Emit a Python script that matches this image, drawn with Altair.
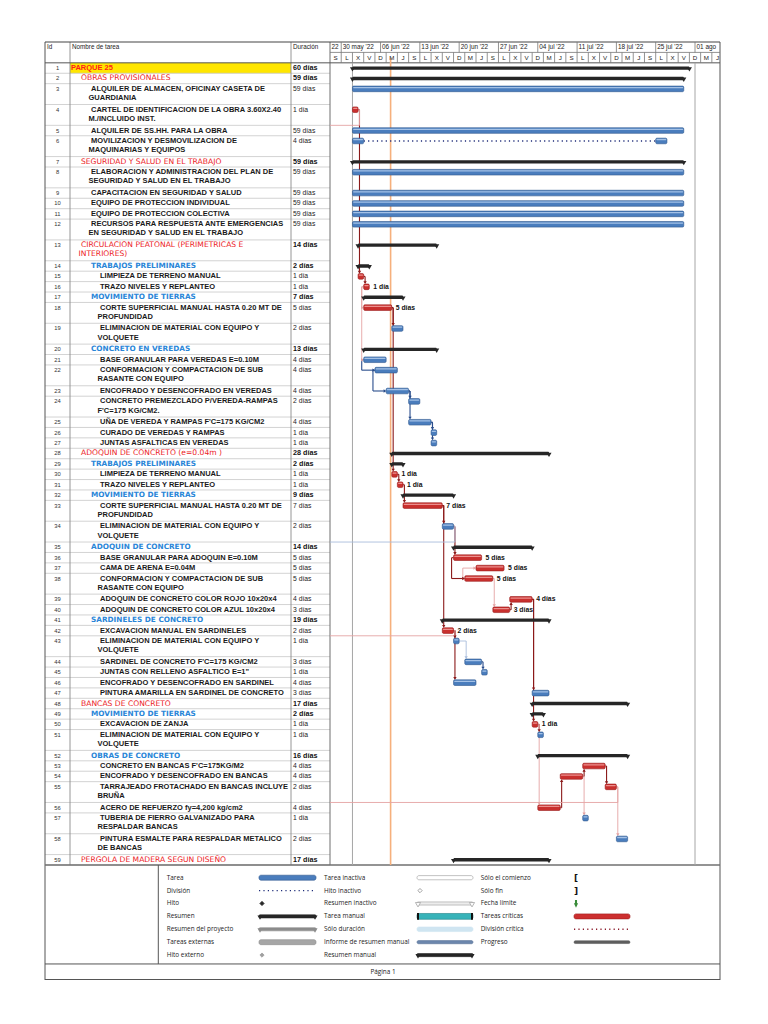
import altair as alt
import pandas as pd

BASE_DATE = "2022-05-28"

task_ids = list(range(1, 60))
task_names = [
    "PARQUE 25",
    "OBRAS PROVISIONALES",
    "ALQUILER DE ALMACEN, OFICINAY CASETA DE\nGUARDIANIA",
    "CARTEL DE IDENTIFICACION DE LA OBRA 3.60X2.40\nM./INCLUIDO INST.",
    "ALQUILER DE SS.HH. PARA LA OBRA",
    "MOVILIZACION Y DESMOVILIZACION DE\nMAQUINARIAS Y EQUIPOS",
    "SEGURIDAD Y SALUD EN EL TRABAJO",
    "ELABORACION Y ADMINISTRACION DEL PLAN DE\nSEGURIDAD Y SALUD EN EL TRABAJO",
    "CAPACITACION EN SEGURIDAD Y SALUD",
    "EQUIPO DE PROTECCION INDIVIDUAL",
    "EQUIPO DE PROTECCION COLECTIVA",
    "RECURSOS PARA RESPUESTA ANTE EMERGENCIAS\nEN SEGURIDAD Y SALUD EN EL TRABAJO",
    "CIRCULACION PEATONAL (PERIMETRICAS E\nINTERIORES)",
    "TRABAJOS PRELIMINARES",
    "LIMPIEZA DE TERRENO MANUAL",
    "TRAZO NIVELES Y REPLANTEO",
    "MOVIMIENTO DE TIERRAS",
    "CORTE SUPERFICIAL MANUAL HASTA 0.20 MT DE\nPROFUNDIDAD",
    "ELIMINACION DE MATERIAL CON EQUIPO Y\nVOLQUETE",
    "CONCRETO EN VEREDAS",
    "BASE GRANULAR PARA VEREDAS E=0.10M",
    "CONFORMACION Y COMPACTACION DE SUB\nRASANTE CON EQUIPO",
    "ENCOFRADO Y DESENCOFRADO EN VEREDAS",
    "CONCRETO PREMEZCLADO P/VEREDA-RAMPAS\nF'C=175 KG/CM2.",
    "UÑA DE VEREDA Y RAMPAS F'C=175 KG/CM2",
    "CURADO DE VEREDAS Y RAMPAS",
    "JUNTAS ASFALTICAS EN VEREDAS",
    "ADOQUIN DE CONCRETO (e=0.04m )",
    "TRABAJOS PRELIMINARES",
    "LIMPIEZA DE TERRENO MANUAL",
    "TRAZO NIVELES Y REPLANTEO",
    "MOVIMIENTO DE TIERRAS",
    "CORTE SUPERFICIAL MANUAL HASTA 0.20 MT DE\nPROFUNDIDAD",
    "ELIMINACION DE MATERIAL CON EQUIPO Y\nVOLQUETE",
    "ADOQUIN DE CONCRETO",
    "BASE GRANULAR PARA ADOQUIN E=0.10M",
    "CAMA DE ARENA E=0.04M",
    "CONFORMACION Y COMPACTACION DE SUB\nRASANTE CON EQUIPO",
    "ADOQUIN DE CONCRETO COLOR ROJO 10x20x4",
    "ADOQUIN DE CONCRETO COLOR AZUL 10x20x4",
    "SARDINELES DE CONCRETO",
    "EXCAVACION MANUAL EN SARDINELES",
    "ELIMINACION DE MATERIAL CON EQUIPO Y\nVOLQUETE",
    "SARDINEL DE CONCRETO F'C=175 KG/CM2",
    'JUNTAS CON RELLENO ASFALTICO E=1"',
    "ENCOFRADO Y DESENCOFRADO EN SARDINEL",
    "PINTURA AMARILLA EN SARDINEL DE CONCRETO",
    "BANCAS DE CONCRETO",
    "MOVIMIENTO DE TIERRAS",
    "EXCAVACION DE ZANJA",
    "ELIMINACION DE MATERIAL CON EQUIPO Y\nVOLQUETE",
    "OBRAS DE CONCRETO",
    "CONCRETO EN BANCAS F'C=175KG/M2",
    "ENCOFRADO Y DESENCOFRADO EN BANCAS",
    "TARRAJEADO FROTACHADO EN BANCAS INCLUYE\nBRUÑA",
    "ACERO DE REFUERZO fy=4,200 kg/cm2",
    "TUBERIA DE FIERRO GALVANIZADO PARA\nRESPALDAR BANCAS",
    "PINTURA ESMALTE PARA RESPALDAR METALICO\nDE BANCAS",
    "PERGOLA DE MADERA SEGUN DISEÑO",
]
task_levels = [1, 2, 3, 3, 3, 3, 2, 3, 3, 3, 3, 3,
               2, 3, 4, 4, 3, 4, 4, 3, 4, 4, 4, 4, 4, 4, 4,
               2, 3, 4, 4, 3, 4, 4, 3, 4, 4, 4, 4, 4,
               3, 4, 4, 4, 4, 4, 4,
               2, 3, 4, 4, 3, 4, 4, 4, 4, 4, 4, 2]
task_durations = ["60 días", "59 días", "59 días", "1 día", "59 días", "4 días", "59 días",
                  "59 días", "59 días", "59 días", "59 días", "59 días",
                  "14 días", "2 días", "1 día", "1 día", "7 días", "5 días", "2 días",
                  "13 días", "4 días", "4 días", "4 días", "2 días", "4 días", "1 día", "1 día",
                  "28 días", "2 días", "1 día", "1 día", "9 días", "7 días", "2 días",
                  "14 días", "5 días", "5 días", "5 días", "4 días", "3 días",
                  "19 días", "2 días", "1 día", "3 días", "1 día", "4 días", "3 días",
                  "17 días", "2 días", "1 día", "1 día", "16 días", "4 días", "4 días",
                  "2 días", "4 días", "1 día", "2 días", "17 días"]
task_starts = ["2022-06-01"] * 12 + [
    "2022-06-02", "2022-06-02", "2022-06-02", "2022-06-03", "2022-06-03", "2022-06-03",
    "2022-06-08", "2022-06-03", "2022-06-03", "2022-06-05", "2022-06-07", "2022-06-11",
    "2022-06-11", "2022-06-15", "2022-06-15",
    "2022-06-08", "2022-06-08", "2022-06-08", "2022-06-09", "2022-06-10", "2022-06-10",
    "2022-06-17", "2022-06-19", "2022-06-19", "2022-06-23", "2022-06-21", "2022-06-29",
    "2022-06-26",
    "2022-06-17", "2022-06-17", "2022-06-19", "2022-06-21", "2022-06-24", "2022-06-19",
    "2022-07-03",
    "2022-07-03", "2022-07-03", "2022-07-03", "2022-07-04", "2022-07-04", "2022-07-12",
    "2022-07-08", "2022-07-16", "2022-07-04", "2022-07-12", "2022-07-18", "2022-06-19"]
summary_ids = [1, 2, 7, 13, 14, 17, 20, 28, 29, 32, 35, 41, 48, 49, 52, 59]
critical_ids = [4, 15, 16, 18, 30, 31, 33, 36, 37, 38, 39, 40, 42, 50, 53, 54, 55, 56]
labeled_ids = [16, 18, 30, 31, 33, 36, 37, 38, 39, 40, 42, 50]
split_tasks = {6: [("2022-06-01", 2), ("2022-07-25", 2)]}
status_date = "2022-06-07T19:00"
project_lines = ["2022-06-01", "2022-08-01"]

links = [
    (4, 15, "FS", "crit"), (15, 16, "FS", "crit"), (16, 18, "SS", "pink"), (16, 21, "SS", "pink"),
    (18, 19, "FS", "crit"), (18, 30, "FS", "crit"), (21, 22, "SS", "blue"), (22, 23, "SS", "blue"),
    (23, 24, "FS", "blue"), (23, 25, "FS", "blue"), (25, 26, "FS", "blue"), (25, 27, "FS", "blue"),
    (30, 31, "FS", "crit"), (31, 33, "FS", "crit"), (33, 34, "FS", "crit"), (33, 42, "FS", "crit"),
    (34, 36, "FS", "crit"), (36, 38, "SS", "crit"), (38, 37, "SS", "pink"), (38, 40, "FS", "pink"),
    (40, 39, "FS", "crit"), (42, 43, "FS", "crit"), (42, 46, "FS", "crit"), (43, 44, "FS", "light"),
    (44, 45, "FS", "blue"), (39, 47, "FS", "crit"), (39, 50, "FS", "crit"), (50, 51, "FS", "crit"),
    (50, 56, "FS", "pink"), (56, 54, "FS", "crit"), (54, 53, "FS", "crit"), (54, 57, "FS", "pink"),
    (53, 55, "FS", "crit"), (55, 58, "FS", "pink"),
    (4, None, "W", "pink"), (34, None, "W", "light"), (42, None, "W", "pink"), (55, None, "W", "pink"),
]

week_labels = ["22", "30 may '22", "06 jun '22", "13 jun '22", "20 jun '22", "27 jun '22",
               "04 jul '22", "11 jul '22", "18 jul '22", "25 jul '22", "01 ago"]
week_starts = ["2022-05-23", "2022-05-30", "2022-06-06", "2022-06-13", "2022-06-20", "2022-06-27",
               "2022-07-04", "2022-07-11", "2022-07-18", "2022-07-25", "2022-08-01"]
day_letters = "LMXJVSD"

legend_labels = ["Tarea", "División", "Hito", "Resumen", "Resumen del proyecto", "Tareas externas",
                 "Hito externo",
                 "Tarea inactiva", "Hito inactivo", "Resumen inactivo", "Tarea manual", "Sólo duración",
                 "Informe de resumen manual", "Resumen manual",
                 "Sólo el comienzo", "Sólo fin", "Fecha límite", "Tareas críticas", "División crítica",
                 "Progreso"]
legend_kinds = ["bar_blue", "dots_blue", "diamond_black", "summary_black", "summary_gray", "bar_gray",
                "diamond_gray",
                "bar_hollow", "diamond_hollow", "summary_hollow", "manual", "duration_only",
                "manual_report", "summary_black",
                "start_only", "finish_only", "deadline", "bar_red", "dots_red", "progress"]
legend_cols = [0] * 7 + [1] * 7 + [2] * 6
page_label = "Página 1"

# ---------------------------------------------------------------- layout
W, H = 675, 938
YMAX = 88.04
NDAYS = 69.45
GX0 = 285
PX = alt.Scale(domain=[0, W], range=[0, W])
DAY = alt.Scale(domain=[0, NDAYS], range=[GX0, W])
YS = alt.Scale(domain=[-2, YMAX], range=[0, H])
base = pd.Timestamp(BASE_DATE)


def dday(s):
    return (pd.Timestamp(s) - base).total_seconds() / 86400.0


rows = {}
top = 0
for i, tid in enumerate(task_ids):
    nl = len(task_names[i].split("\n"))
    st = dday(task_starts[i])
    du = int(task_durations[i].split()[0])
    rows[tid] = dict(top=top, bot=top + nl, ym=top + 0.5, start=st, end=st + du)
    top += nl
BODY_END = top

F_TASK = "Liberation Sans"
F_SUM = "DejaVu Sans"


def rule_layer(df, xs, dash=None):
    m = alt.Chart(df).mark_rule(strokeDash=dash) if dash else alt.Chart(df).mark_rule()
    return m.encode(
        x=alt.X("x1:Q", scale=xs, axis=None), x2="x2:Q",
        y=alt.Y("y1:Q", scale=YS, axis=None), y2="y2:Q",
        color=alt.Color("c:N", scale=None), size=alt.Size("w:Q", scale=None))


def rect_layer(df, xs, radius=0, sw=0.6):
    return alt.Chart(df).mark_rect(cornerRadius=radius, strokeWidth=sw).encode(
        x=alt.X("x1:Q", scale=xs, axis=None), x2="x2:Q",
        y=alt.Y("y1:Q", scale=YS, axis=None), y2="y2:Q",
        fill=alt.Fill("f:N", scale=None), stroke=alt.Stroke("s:N", scale=None))


def point_layer(df, xs, shape, size, angle=None, sw=0.8):
    kw = dict(shape=shape, size=size, filled=True, opacity=1, strokeWidth=sw)
    if angle is not None:
        kw["angle"] = angle
    return alt.Chart(df).mark_point(**kw).encode(
        x=alt.X("x:Q", scale=xs, axis=None), y=alt.Y("y:Q", scale=YS, axis=None),
        fill=alt.Fill("f:N", scale=None), stroke=alt.Stroke("s:N", scale=None))


def text_layer(df, xs, **kw):
    kw.setdefault("baseline", "middle")
    kw.setdefault("align", "left")
    return alt.Chart(df).mark_text(**kw).encode(
        x=alt.X("x:Q", scale=xs, axis=None), y=alt.Y("y:Q", scale=YS, axis=None), text="t:N")


layers = []

# ---------------------------------------------------------------- table background / grid
r1 = rows[1]
layers.append(rect_layer(pd.DataFrame([dict(x1=25, x2=246, y1=r1["top"], y2=r1["bot"],
                                             f="#ffe600", s="#ffe600")]), PX, sw=0))

grid = []
for tid in task_ids:
    b = rows[tid]["bot"]
    grid.append(dict(x1=0, x2=285, y1=b, y2=b, c="#c8c8c8", w=0.8))
for xv in (25, 246):
    grid.append(dict(x1=xv, x2=xv, y1=-2, y2=BODY_END, c="#8a8a8a", w=0.9))
grid.append(dict(x1=285, x2=285, y1=-2, y2=BODY_END, c="#6e6e6e", w=1.0))
grid.append(dict(x1=0, x2=0, y1=-2, y2=YMAX, c="#555555", w=1.0))
grid.append(dict(x1=W, x2=W, y1=-2, y2=YMAX, c="#555555", w=1.0))
grid.append(dict(x1=0, x2=W, y1=-2, y2=-2, c="#444444", w=1.2))
grid.append(dict(x1=0, x2=W, y1=0, y2=0, c="#555555", w=1.0))
grid.append(dict(x1=285, x2=W, y1=-1, y2=-1, c="#777777", w=0.8))
grid.append(dict(x1=0, x2=W, y1=BODY_END, y2=BODY_END, c="#707070", w=1.6))
grid.append(dict(x1=0, x2=W, y1=86.5, y2=86.5, c="#555555", w=1.0))
grid.append(dict(x1=0, x2=W, y1=YMAX - 0.05, y2=YMAX - 0.05, c="#555555", w=1.2))
grid.append(dict(x1=113.3, x2=113.3, y1=BODY_END, y2=86.5, c="#555555", w=1.0))
layers.append(rule_layer(pd.DataFrame(grid), PX))

# header separators in the timescale
hsep = []
for ws in week_starts:
    d = dday(ws)
    if 0 < d < NDAYS:
        hsep.append(dict(x1=d, x2=d, y1=-2, y2=-1, c="#777777", w=0.8))
for d in range(2, 70, 2):
    if d < NDAYS:
        hsep.append(dict(x1=d, x2=d, y1=-1, y2=0, c="#777777", w=0.8))
layers.append(rule_layer(pd.DataFrame(hsep), DAY))

# ---------------------------------------------------------------- gantt guide lines
guides = [dict(x1=dday(p), x2=dday(p), y1=0, y2=BODY_END, c="#a6a6a6", w=1.0) for p in project_lines]
sd = dday(status_date)
guides.append(dict(x1=sd, x2=sd, y1=-0.5, y2=BODY_END, c="#f6b07c", w=1.6))
layers.append(rule_layer(pd.DataFrame(guides), DAY))

# ---------------------------------------------------------------- links
COL = {"crit": "#8b1a1a", "pink": "#e4a4a4", "blue": "#2a4d8c", "light": "#a9bddc"}
lseg, arr_d, arr_u, arr_r = [], [], [], []
for p, s, kind, ck in links:
    c = COL[ck]
    w = 1.1 if ck in ("crit", "blue") else 0.9
    P = rows[p]
    if kind == "W":
        xv = P["end"] + 0.25
        lseg.append(dict(x1=P["end"], x2=xv, y1=P["ym"], y2=P["ym"], c=c, w=w))
        lseg.append(dict(x1=xv, x2=xv, y1=P["ym"], y2=P["bot"], c=c, w=w))
        lseg.append(dict(x1=0, x2=xv, y1=P["bot"], y2=P["bot"], c=c, w=w))
        continue
    S = rows[s]
    if kind == "FS":
        xv = S["start"] + 0.25
        lseg.append(dict(x1=P["end"], x2=xv, y1=P["ym"], y2=P["ym"], c=c, w=w))
        if S["ym"] > P["ym"]:
            lseg.append(dict(x1=xv, x2=xv, y1=P["ym"], y2=S["ym"] - 0.4, c=c, w=w))
            arr_d.append(dict(x=xv, y=S["ym"] - 0.4, f=c, s=c))
        else:
            lseg.append(dict(x1=xv, x2=xv, y1=P["ym"], y2=S["ym"] + 0.4, c=c, w=w))
            arr_u.append(dict(x=xv, y=S["ym"] + 0.4, f=c, s=c))
    else:
        xv = P["start"] - 0.35
        lseg.append(dict(x1=xv, x2=P["start"], y1=P["ym"], y2=P["ym"], c=c, w=w))
        lseg.append(dict(x1=xv, x2=xv, y1=P["ym"], y2=S["ym"], c=c, w=w))
        lseg.append(dict(x1=xv, x2=S["start"] - 0.2, y1=S["ym"], y2=S["ym"], c=c, w=w))
        arr_r.append(dict(x=S["start"] - 0.2, y=S["ym"], f=c, s=c))
layers.append(rule_layer(pd.DataFrame(lseg), DAY))
layers.append(point_layer(pd.DataFrame(arr_d), DAY, "triangle-down", 11, sw=0))
layers.append(point_layer(pd.DataFrame(arr_u), DAY, "triangle-up", 11, sw=0))
layers.append(point_layer(pd.DataFrame(arr_r), DAY, "triangle-right", 11, sw=0))

# ---------------------------------------------------------------- bars
bars, hl, dots = [], [], []
for tid in task_ids:
    if tid in summary_ids:
        continue
    R = rows[tid]
    crit = tid in critical_ids
    fill, strk, hi = ("#c9302e", "#9a1d1d", "#ec8f8d") if crit else ("#4a7dbd", "#30598f", "#a4c1e6")
    segs = [(dday(a), dday(a) + n) for a, n in split_tasks[tid]] if tid in split_tasks else [(R["start"], R["end"])]
    for a, b in segs:
        bars.append(dict(x1=a, x2=b, y1=R["ym"] - 0.27, y2=R["ym"] + 0.27, f=fill, s=strk))
        hl.append(dict(x1=a + 0.12, x2=b - 0.12, y1=R["ym"] - 0.18, y2=R["ym"] - 0.06, f=hi, s=hi))
    for k in range(len(segs) - 1):
        dots.append(dict(x1=segs[k][1], x2=segs[k + 1][0], y1=R["ym"], y2=R["ym"], c="#1f2d7a", w=1.4))
if dots:
    layers.append(rule_layer(pd.DataFrame(dots), DAY, dash=[1.2, 3.2]))
layers.append(rect_layer(pd.DataFrame(bars), DAY, radius=1.2, sw=0.6))
layers.append(rect_layer(pd.DataFrame(hl), DAY, radius=0.5, sw=0))

sums, caps = [], []
for tid in summary_ids:
    R = rows[tid]
    sums.append(dict(x1=R["start"], x2=R["end"], y1=R["ym"] - 0.16, y2=R["ym"] + 0.16, f="#262626", s="#262626"))
    for xx in (R["start"], R["end"]):
        caps.append(dict(x=xx, y=R["ym"] + 0.13, f="#262626", s="#262626"))
layers.append(rect_layer(pd.DataFrame(sums), DAY, radius=1, sw=0))
layers.append(point_layer(pd.DataFrame(caps), DAY, "triangle-down", 26, sw=0))

labs = [dict(x=rows[t]["end"], y=rows[t]["ym"], t=task_durations[task_ids.index(t)]) for t in labeled_ids]
layers.append(text_layer(pd.DataFrame(labs), DAY, dx=4, fontSize=6.8, fontWeight="bold",
                         font=F_TASK, color="#111111"))

# ---------------------------------------------------------------- timescale header text
wk = [dict(x=max(dday(ws), 0), y=-1.5, t=lab) for ws, lab in zip(week_starts, week_labels)]
layers.append(text_layer(pd.DataFrame(wk), DAY, dx=1.5, fontSize=6.4, font=F_TASK, color="#222222"))
dl = []
for d in range(0, 70, 2):
    if d + 1 < NDAYS:
        dt = base + pd.Timedelta(days=d)
        dl.append(dict(x=d + 1, y=-0.5, t=day_letters[dt.weekday()]))
layers.append(text_layer(pd.DataFrame(dl), DAY, align="center", fontSize=6.2, font=F_TASK, color="#222222"))

# ---------------------------------------------------------------- table text
hdr = [dict(x=2, y=-1.5, t="Id"), dict(x=27, y=-1.5, t="Nombre de tarea"), dict(x=248, y=-1.5, t="Duración")]
layers.append(text_layer(pd.DataFrame(hdr), PX, fontSize=6.3, font=F_TASK, color="#222222"))

idt = [dict(x=12.5, y=rows[t]["ym"], t=str(t)) for t in task_ids]
layers.append(text_layer(pd.DataFrame(idt), PX, align="center", fontSize=5.8, font=F_TASK, color="#333333"))

groups = {"proj": [], "sum2": [], "sum3": [], "task": []}
durs_s, durs_t = [], []
for i, tid in enumerate(task_ids):
    R = rows[tid]
    lv = task_levels[i]
    if lv == 1:
        g, x0 = "proj", 26
    elif lv == 2:
        g, x0 = "sum2", 36
    elif tid in summary_ids:
        g, x0 = "sum3", 46
    else:
        g, x0 = "task", 46 if lv == 3 else 55
    for k, line in enumerate(task_names[i].split("\n")):
        groups[g].append(dict(x=x0 - (2.5 if k else 0), y=R["top"] + 0.5 + 0.88 * k, t=line))
    (durs_s if tid in summary_ids else durs_t).append(dict(x=248, y=R["ym"], t=task_durations[i]))

layers.append(text_layer(pd.DataFrame(groups["proj"]), PX, fontSize=7.5, fontWeight="bold", font=F_TASK, color="#ff1a1a"))
layers.append(text_layer(pd.DataFrame(groups["sum2"]), PX, fontSize=7.6, font=F_SUM, color="#ec2226"))
layers.append(text_layer(pd.DataFrame(groups["sum3"]), PX, fontSize=7.3, fontWeight="bold", font=F_SUM, color="#2a86d8"))
layers.append(text_layer(pd.DataFrame(groups["task"]), PX, fontSize=7.5, fontWeight="bold", font=F_TASK, color="#1a1a1a"))
layers.append(text_layer(pd.DataFrame(durs_s), PX, fontSize=7.2, fontWeight="bold", font=F_TASK, color="#111111"))
layers.append(text_layer(pd.DataFrame(durs_t), PX, fontSize=6.8, font=F_TASK, color="#222222"))

# ---------------------------------------------------------------- legend
LBL_X = [121.7, 279, 435.7]
SYM_X1 = [214, 372, 529]
SYM_X2 = [271, 428, 585]
row_in_col = {}
lg_text, lg_rect, lg_sum, lg_caps, lg_caps_h, lg_dia, lg_dots, lg_br, lg_arrow, lg_end = [], [], [], [], [], [], [], [], [], []
bar_styles = {
    "bar_blue": ("#4a7dbd", "#30598f", 0.24), "bar_gray": ("#a6a6a6", "#8c8c8c", 0.24),
    "bar_red": ("#cc2f2f", "#a11f1f", 0.24), "bar_hollow": ("#ffffff", "#9a9a9a", 0.2),
    "manual": ("#37b3b9", "#1f7f85", 0.28), "duration_only": ("#cfe5f1", "#cfe5f1", 0.22),
    "manual_report": ("#6c87ad", "#5a7397", 0.15), "progress": ("#5e5e5e", "#5e5e5e", 0.13),
}
for lab, kind, col in zip(legend_labels, legend_kinds, legend_cols):
    r = row_in_col.get(col, 0)
    row_in_col[col] = r + 1
    y = 78.22 + r * 1.238
    x1, x2 = SYM_X1[col], SYM_X2[col]
    lg_text.append(dict(x=LBL_X[col], y=y, t=lab))
    if kind in bar_styles:
        f, s, hh = bar_styles[kind]
        lg_rect.append(dict(x1=x1, x2=x2, y1=y - hh, y2=y + hh, f=f, s=s))
        if kind == "manual":
            for xe in (x1, x2 - 2):
                lg_end.append(dict(x1=xe, x2=xe + 2, y1=y - 0.33, y2=y + 0.33, f="#111111", s="#111111"))
    elif kind.startswith("summary"):
        f, s = {"summary_black": ("#262626", "#262626"), "summary_gray": ("#8c8c8c", "#8c8c8c"),
                "summary_hollow": ("#ececec", "#9a9a9a")}[kind]
        lg_sum.append(dict(x1=x1, x2=x2, y1=y - 0.15, y2=y + 0.15, f=f, s=s))
        tgt = lg_caps_h if kind == "summary_hollow" else lg_caps
        for xe in (x1 + 1, x2 - 1):
            tgt.append(dict(x=xe, y=y + 0.12, f="#ffffff" if kind == "summary_hollow" else f, s=s))
    elif kind.startswith("diamond"):
        f, s = {"diamond_black": ("#262626", "#262626"), "diamond_gray": ("#a0a0a0", "#a0a0a0"),
                "diamond_hollow": ("#ffffff", "#8a8a8a")}[kind]
        lg_dia.append(dict(x=x1 + 3, y=y, f=f, s=s))
    elif kind.startswith("dots"):
        lg_dots.append(dict(x1=x1, x2=x2, y1=y, y2=y, c="#1f2d7a" if kind == "dots_blue" else "#8b1a2a", w=1.4))
    elif kind in ("start_only", "finish_only"):
        lg_br.append(dict(x=x1 + 2, y=y, t="[" if kind == "start_only" else "]"))
    elif kind == "deadline":
        lg_arrow.append(dict(x=x1 + 2, y=y, f="#3a8c3a", s="#3a8c3a"))

layers.append(text_layer(pd.DataFrame(lg_text), PX, fontSize=6.4, font="Open Sans", color="#222222"))
layers.append(rect_layer(pd.DataFrame(lg_rect), PX, radius=2, sw=0.6))
layers.append(rect_layer(pd.DataFrame(lg_end), PX, sw=0))
layers.append(rect_layer(pd.DataFrame(lg_sum), PX, radius=1, sw=0.6))
layers.append(point_layer(pd.DataFrame(lg_caps), PX, "triangle-down", 26, sw=0))
layers.append(point_layer(pd.DataFrame(lg_caps_h), PX, "triangle-down", 26, sw=0.7))
layers.append(point_layer(pd.DataFrame(lg_dia), PX, "diamond", 18, sw=0.8))
layers.append(rule_layer(pd.DataFrame(lg_dots), PX, dash=[1.2, 3.2]))
layers.append(text_layer(pd.DataFrame(lg_br), PX, align="center", fontSize=9, fontWeight="bold",
                         font=F_SUM, color="#111111"))
layers.append(point_layer(pd.DataFrame(lg_arrow), PX, "arrow", 30, angle=180, sw=1.3))
layers.append(text_layer(pd.DataFrame([dict(x=338, y=87.24, t=page_label)]), PX, align="center",
                         fontSize=6.4, font="Open Sans", color="#222222"))

chart = alt.layer(*layers).resolve_scale(x="independent").properties(
    width=W, height=H,
    padding={"left": 37, "top": 34, "right": 8, "bottom": 8},
    autosize=alt.AutoSizeParams(type="none"),
).configure_view(stroke=None)

chart.save("out.html", embed_options={"renderer": "svg", "actions": False})
